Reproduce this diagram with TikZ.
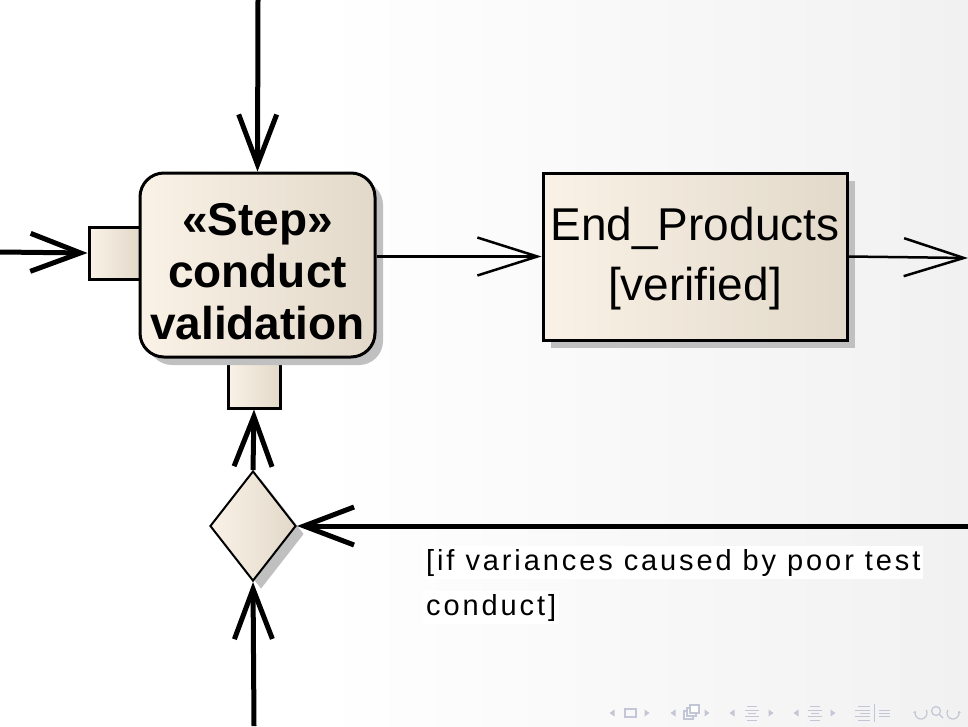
\documentclass[tikz,border=0pt]{standalone}
\usepackage{fontspec}
\setmainfont{Liberation Sans}
\newfontfamily\guardfont[LetterSpace=10]{Liberation Sans}
\usetikzlibrary{arrows.meta,shapes.geometric,shadows,calc}
\definecolor{fillL}{HTML}{FAF2E6}
\definecolor{fillM}{HTML}{F5ECDF}
\definecolor{fillR}{HTML}{E2D9CA}
\definecolor{shadowgray}{HTML}{C0C0C0}
\definecolor{navgray}{HTML}{C3C7D5}
\definecolor{pagegray}{HTML}{F1F1F1}

\begin{document}
\begin{tikzpicture}[x=1pt,y=-1pt,
  box/.style={draw=black, line width=3pt, left color=fillL, middle color=fillM,
              right color=fillR, inner sep=0pt},
  shadowed/.style={drop shadow={shadow xshift=8pt, shadow yshift=-8pt,
              fill=shadowgray, opacity=1}},
  flow/.style={line width=5pt, -{Straight Barb[length=50pt,width=38pt]}},
  objflow/.style={line width=2.5pt, -{Straight Barb[length=60pt,width=38pt]}},
  navl/.pic={\fill[navgray] (2.5,-3.5) -- (-2.5,0) -- (2.5,3.5) -- cycle;},
  navr/.pic={\fill[navgray] (-2.5,-3.5) -- (2.5,0) -- (-2.5,3.5) -- cycle;},
  navline/.style={draw=navgray, line width=1.2pt},
  navturn/.style={navline, -{Stealth[length=2.5pt,width=3.5pt]}}]

% page background
\useasboundingbox (0,0) rectangle (968,726);
\fill[white] (0,0) rectangle (968,726);
\shade[left color=white, right color=pagegray] (320,0) rectangle (968,726);

% pins
\node[box, minimum width=51pt, minimum height=52pt] (pinL) at (114.5,253) {};
\node[box, minimum width=52pt, minimum height=51pt] (pinB) at (254,382.5) {};

% action "conduct validation"
\node[box, shadowed, rounded corners=24pt, minimum width=235pt,
      minimum height=184pt] (step) at (257.5,265) {};
\node[font=\bfseries\fontsize{46}{52}\selectfont, align=center, inner sep=0pt]
      (steptxt) at ($(step.center)+(0,7)$) {«Step»\\conduct\\validation};

% object node
\node[box, shadowed, minimum width=304pt, minimum height=167pt] (ep) at (695,256.5) {};
\node[font=\fontsize{46}{60}\selectfont, align=center, inner sep=0pt]
      (eptxt) at ($(ep.center)+(0,2)$) {End\_Products\\{}[verified]};

% decision
\node[diamond, box, shadowed, line width=2pt, minimum width=86pt,
      minimum height=110pt] (dec) at (253,526) {};

% guard, each line on its own white ground
\node[anchor=north west, align=left, inner sep=0pt,
      font=\guardfont\fontsize{29}{45}\selectfont] (guard) at (423,546)
      {\colorbox{white}{[if variances caused by poor test}\\
       \colorbox{white}{conduct]}};

% free ends of the flows
\coordinate (topin) at (258,0);
\coordinate (leftin) at (0,252);
\coordinate (botin) at (254,726);
\coordinate (rightin) at (968,526);
\coordinate (epout) at (968,258);

% control flows
\draw[flow] (topin) -- (step.north);
\draw[flow] (leftin) -- (pinL.west);
\draw[flow] (dec.north) -- (pinB.south);
\draw[flow] (botin) -- (dec.south);
\draw[flow] (rightin) -- (dec.east);

% object flows
\draw[objflow] (step.east |- ep.west) -- (ep.west);
\draw[objflow] (ep.east) -- (epout);

% navigation symbols
\pic at (612,713) {navl}; \draw[navline] (625,709) rectangle (636,717); \pic at (647,713) {navr};
\pic at (673,713) {navl};
\draw[navline, fill=white] (684,711) rectangle (693,719);
\draw[navline, fill=white] (687,708) rectangle (696,716);
\draw[navline, fill=white] (690,705) rectangle (699,713);
\pic at (707,713) {navr};
\pic at (732,713) {navl};
\foreach \yy/\xa/\xb in {706/747/757, 710/745/759, 713/748/756, 716/745/759, 720/747/757}
  \draw[navline, line width=0.9pt] (\xa,\yy) -- (\xb,\yy);
\pic at (771,713) {navr};
\pic at (796,713) {navl};
\foreach \yy/\xa/\xb in {706/810/820, 710/808/822, 713/811/819, 716/808/822, 720/810/820}
  \draw[navline, line width=0.9pt] (\xa,\yy) -- (\xb,\yy);
\pic at (833,713) {navr};
\foreach \yy/\xa in {706/858, 710/855, 713/860, 716/855, 720/858}
  \draw[navline, line width=0.9pt] (\xa,\yy) -- (870,\yy);
\draw[navline, line width=0.9pt] (874,704) -- (874,722);
\foreach \yy in {710,713,716}
  \draw[navline, line width=0.9pt] (879,\yy) -- (890,\yy);
\draw[navturn] (921,713) ++(-30:6) arc[start angle=-30, end angle=200, radius=6];
\draw[navline] (936,711) circle[radius=4.5pt];
\draw[navline] (939.5,714.5) -- (943,718);
\draw[navturn] (953,713) ++(210:6) arc[start angle=210, end angle=-20, radius=6];
\end{tikzpicture}
\end{document}
